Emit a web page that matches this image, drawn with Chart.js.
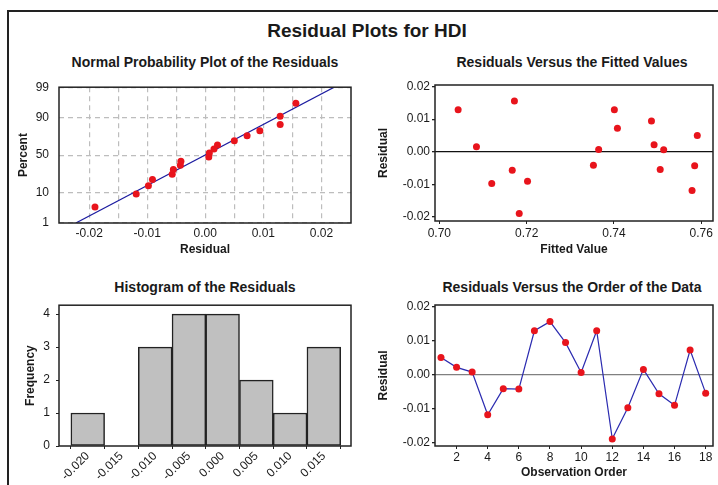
<!DOCTYPE html>
<html>
<head>
<meta charset="utf-8">
<script src="https://cdn.jsdelivr.net/npm/chart.js@4.4.1/dist/chart.umd.min.js"></script>
<style>
  html, body { margin: 0; padding: 0; background: #fff; overflow: hidden; }
  body { width: 718px; height: 485px; position: relative; font-family: "Liberation Sans", Arial, sans-serif; color: #1a1a1a; }
  canvas { position: absolute; }
  .frame { position: absolute; left: 7px; top: 10px; width: 800px; height: 600px; border-left: 2px solid #222; border-top: 2px solid #222; }
  .ttl { position: absolute; text-align: center; font-weight: bold; white-space: nowrap; line-height: 1; }
</style>
</head>
<body>
<div class="frame"></div>
<div class="ttl" style="left:167px; width:400px; top:21px; font-size:19px;">Residual Plots for HDI</div>
<div class="ttl" style="left:5px; width:400px; top:55px; font-size:14px;">Normal Probability Plot of the Residuals</div>
<div class="ttl" style="left:372px; width:400px; top:55px; font-size:14px;">Residuals Versus the Fitted Values</div>
<div class="ttl" style="left:5px; width:400px; top:280px; font-size:14px;">Histogram of the Residuals</div>
<div class="ttl" style="left:372px; width:400px; top:280px; font-size:14px;">Residuals Versus the Order of the Data</div>

<canvas id="probChart" width="360" height="190" style="left:0px; top:70px;"></canvas>
<canvas id="fitChart" width="358" height="190" style="left:360px; top:70px;"></canvas>
<canvas id="histChart" width="360" height="193" style="left:0px; top:292px;"></canvas>
<canvas id="orderChart" width="358" height="193" style="left:360px; top:292px;"></canvas>

<script>
// ==== Data ====
const residuals = [0.0050, 0.0021, 0.0007, -0.0119, -0.0042, -0.0043, 0.0129, 0.0156, 0.0094,
  0.0006, 0.0129, -0.0190, -0.0098, 0.0015, -0.0057, -0.0091, 0.0072, -0.0055];
const fittedValues = [0.7591, 0.7492, 0.7365, 0.7579, 0.7353, 0.7585, 0.7043, 0.7172, 0.7486,
  0.7514, 0.7401, 0.7183, 0.7120, 0.7085, 0.7167, 0.7202, 0.7408, 0.7506];
const observationOrder = [1, 2, 3, 4, 5, 6, 7, 8, 9, 10, 11, 12, 13, 14, 15, 16, 17, 18];

const probPercent = [3.8, 9.2, 14.7, 20.1, 25.5, 31.0, 36.4, 41.8, 47.3, 52.7, 58.2, 63.6,
  69.0, 74.5, 79.9, 85.3, 90.8, 96.2];
const fitLineResidual = [-0.0223, 0.0222];
const fitLinePercent = [1, 99];

const histCenters = [-0.020, -0.015, -0.010, -0.005, 0.000, 0.005, 0.010, 0.015];
const histCounts = [1, 0, 3, 4, 4, 2, 1, 3];

// ==== Tick labels ====
const probPercentTicks = [1, 10, 50, 90, 99];
const probResidualTicks = [-0.02, -0.015, -0.01, -0.005, 0, 0.005, 0.01, 0.015, 0.02];
const residualTicks = [-0.02, -0.01, 0, 0.01, 0.02];
const fittedTicks = [0.70, 0.72, 0.74, 0.76];
const orderTicks = [2, 4, 6, 8, 10, 12, 14, 16, 18];
const freqTicks = [0, 1, 2, 3, 4];

const RED = '#e8141c';
const FONT = '"Liberation Sans", Arial, sans-serif';

// inverse normal cdf (Acklam), used for the probability axis
function probit(p) {
  const a = [-3.969683028665376e+01, 2.209460984245205e+02, -2.759285104469687e+02, 1.383577518672690e+02, -3.066479806614716e+01, 2.506628277459239e+00];
  const b = [-5.447609879822406e+01, 1.615858368580409e+02, -1.556989798598866e+02, 6.680131188771972e+01, -1.328068155288572e+01];
  const c = [-7.784894002430293e-03, -3.223964580411365e-01, -2.400758277161838e+00, -2.549732539343734e+00, 4.374664141464968e+00, 2.938163982698783e+00];
  const d = [7.784695709041462e-03, 3.224671290700398e-01, 2.445134137142996e+00, 3.754408661907416e+00];
  const pl = 0.02425;
  if (p < pl) {
    const q = Math.sqrt(-2 * Math.log(p));
    return (((((c[0]*q+c[1])*q+c[2])*q+c[3])*q+c[4])*q+c[5]) / ((((d[0]*q+d[1])*q+d[2])*q+d[3])*q+1);
  }
  if (p > 1 - pl) {
    const q = Math.sqrt(-2 * Math.log(1 - p));
    return -(((((c[0]*q+c[1])*q+c[2])*q+c[3])*q+c[4])*q+c[5]) / ((((d[0]*q+d[1])*q+d[2])*q+d[3])*q+1);
  }
  const q = p - 0.5, r = q * q;
  return (((((a[0]*r+a[1])*r+a[2])*r+a[3])*r+a[4])*r+a[5])*q / (((((b[0]*r+b[1])*r+b[2])*r+b[3])*r+b[4])*r+1);
}

// ==== Helpers ====
const framePlugin = {
  id: 'frame',
  afterDatasetsDraw(chart) {
    const { ctx, chartArea: a } = chart;
    ctx.save();
    ctx.strokeStyle = '#222';
    ctx.lineWidth = 1.5;
    ctx.strokeRect(a.left, a.top, a.right - a.left, a.bottom - a.top);
    ctx.restore();
  }
};

function axisTitle(text, pad) {
  return { display: true, text, color: '#1a1a1a', font: { family: FONT, size: 12, weight: 'bold' }, padding: pad };
}

function tickFont() {
  return { family: FONT, size: 12 };
}

function baseOptions(padTop, padRight, scales) {
  return {
    responsive: false,
    animation: false,
    devicePixelRatio: 1,
    layout: { padding: { top: padTop, right: padRight, left: 0, bottom: 0 } },
    plugins: { legend: { display: false }, tooltip: { enabled: false } },
    scales
  };
}

function fixedTicks(list) {
  return scale => { scale.ticks = list.map(v => ({ value: v })); };
}

// ==== Normal probability plot ====
const sortedResiduals = residuals.slice().sort((a, b) => a - b);

new Chart(document.getElementById('probChart'), {
  type: 'scatter',
  data: {
    datasets: [
      {
        type: 'line',
        data: fitLineResidual.map((x, i) => ({ x, y: probit(fitLinePercent[i] / 100) })),
        borderColor: '#1c1ca0',
        borderWidth: 1.2,
        pointRadius: 0,
        order: 2
      },
      {
        data: sortedResiduals.map((x, i) => ({ x, y: probit(probPercent[i] / 100) })),
        backgroundColor: RED,
        borderWidth: 0,
        pointRadius: 3.5,
        order: 1
      }
    ]
  },
  options: baseOptions(13, 9, {
    x: {
      type: 'linear', min: -0.0252, max: 0.0251,
      afterBuildTicks: fixedTicks(probResidualTicks),
      afterFit: s => { s.height = 37; },
      grid: { color: '#bdbdbd', lineWidth: 1.2, drawTicks: false },
      border: { display: false, dash: [5, 4] },
      ticks: {
        color: '#1a1a1a', font: tickFont(), padding: 3, maxRotation: 0, autoSkip: false,
        callback: v => (Math.abs(Math.round(v * 1000)) % 10 === 0 ? v.toFixed(2) : '')
      },
      title: axisTitle('Residual', { top: 0, bottom: 3 })
    },
    y: {
      type: 'linear', min: probit(0.01), max: probit(0.99),
      afterBuildTicks: fixedTicks(probPercentTicks.map(p => probit(p / 100))),
      afterFit: s => { s.width = 59; },
      grid: { color: '#bdbdbd', lineWidth: 1.2, drawTicks: false },
      border: { display: false, dash: [5, 4] },
      ticks: { color: '#1a1a1a', font: tickFont(), padding: 10, callback: (v, i) => probPercentTicks[i] },
      title: axisTitle('Percent', { top: 16, bottom: 0 })
    }
  }),
  plugins: [framePlugin]
});

// ==== Residuals vs fitted ====
new Chart(document.getElementById('fitChart'), {
  type: 'scatter',
  data: {
    datasets: [{
      data: fittedValues.map((x, i) => ({ x, y: residuals[i] })),
      backgroundColor: RED,
      borderWidth: 0,
      pointRadius: 3.5
    }]
  },
  options: baseOptions(15, 5, {
    x: {
      type: 'linear', min: 0.6990, max: 0.7627,
      afterBuildTicks: fixedTicks(fittedTicks),
      afterFit: s => { s.height = 39; },
      grid: { drawOnChartArea: false, tickColor: '#222', tickLength: 3 },
      border: { display: false },
      ticks: { color: '#1a1a1a', font: tickFont(), padding: 2, maxRotation: 0, callback: v => v.toFixed(2) },
      title: axisTitle('Fitted Value', { top: 0, bottom: 3 })
    },
    y: {
      type: 'linear', min: -0.0213, max: 0.0205,
      afterBuildTicks: fixedTicks(residualTicks),
      afterFit: s => { s.width = 75; },
      grid: { color: c => (c.tick && c.tick.value === 0 ? '#111' : 'rgba(0,0,0,0)'), tickColor: '#222', tickLength: 3, lineWidth: 1.3 },
      border: { display: false },
      ticks: { color: '#1a1a1a', font: tickFont(), padding: 2, callback: v => v.toFixed(2) },
      title: axisTitle('Residual', { top: 16, bottom: 0 })
    }
  }),
  plugins: [framePlugin]
});

// ==== Histogram ====
new Chart(document.getElementById('histChart'), {
  type: 'bar',
  data: {
    datasets: [{
      data: histCenters.map((x, i) => ({ x, y: histCounts[i] })),
      backgroundColor: '#c0c0c0',
      borderColor: '#222',
      borderWidth: 1.5,
      borderSkipped: false,
      barPercentage: 1,
      categoryPercentage: 1
    }]
  },
  options: baseOptions(12, 9, {
    x: {
      type: 'linear', min: -0.02426, max: 0.01903, offset: false,
      afterBuildTicks: fixedTicks(histCenters),
      afterFit: s => { s.height = 39; },
      grid: { drawOnChartArea: false, tickColor: '#222', tickLength: 3 },
      border: { display: false },
      ticks: { color: '#1a1a1a', font: tickFont(), padding: 0, minRotation: 45, maxRotation: 45, autoSkip: false, callback: v => v.toFixed(3) }
    },
    y: {
      type: 'linear', min: 0, max: 4.27,
      afterBuildTicks: fixedTicks(freqTicks),
      afterFit: s => { s.width = 59; },
      grid: { drawOnChartArea: false, tickColor: '#222', tickLength: 3 },
      border: { display: false },
      ticks: { color: '#1a1a1a', font: tickFont(), padding: 6 },
      title: axisTitle('Frequency', { top: 23, bottom: 0 })
    }
  }),
  plugins: [framePlugin]
});

// ==== Residuals vs order ====
new Chart(document.getElementById('orderChart'), {
  type: 'line',
  data: {
    datasets: [{
      data: observationOrder.map((x, i) => ({ x, y: residuals[i] })),
      borderColor: '#2b2bb0',
      borderWidth: 1.2,
      backgroundColor: RED,
      pointBackgroundColor: RED,
      pointBorderWidth: 0,
      pointRadius: 3.5,
      tension: 0
    }]
  },
  options: baseOptions(13, 5, {
    x: {
      type: 'linear', min: 0.615, max: 18.47,
      afterBuildTicks: fixedTicks(orderTicks),
      afterFit: s => { s.height = 39; },
      grid: { drawOnChartArea: false, tickColor: '#222', tickLength: 3 },
      border: { display: false },
      ticks: { color: '#1a1a1a', font: tickFont(), padding: 1, maxRotation: 0 },
      title: axisTitle('Observation Order', { top: 0, bottom: 5 })
    },
    y: {
      type: 'linear', min: -0.0211, max: 0.0205,
      afterBuildTicks: fixedTicks(residualTicks),
      afterFit: s => { s.width = 75; },
      grid: { color: c => (c.tick && c.tick.value === 0 ? '#808080' : 'rgba(0,0,0,0)'), tickColor: '#222', tickLength: 3, lineWidth: 1.3 },
      border: { display: false },
      ticks: { color: '#1a1a1a', font: tickFont(), padding: 2, callback: v => v.toFixed(2) },
      title: axisTitle('Residual', { top: 16, bottom: 0 })
    }
  }),
  plugins: [framePlugin]
});
</script>
</body>
</html>
